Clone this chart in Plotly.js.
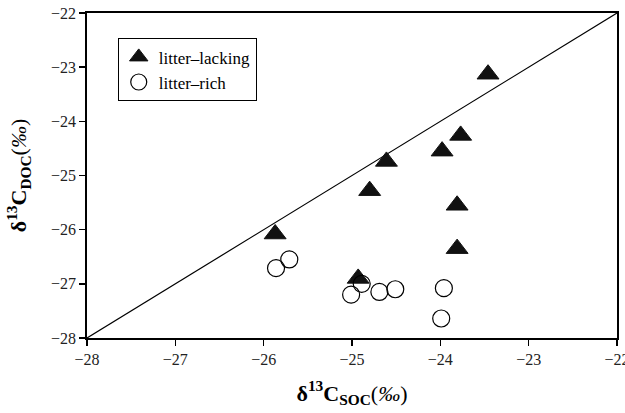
<!DOCTYPE html>
<html>
<head>
<meta charset="utf-8">
<script src="https://cdn.plot.ly/plotly-3.0.1.min.js"></script>
<style>html,body{margin:0;padding:0;background:#fff;}#chart{width:625px;height:413px;}</style>
</head>
<body>
<div id="chart"></div>
<script>
// litter-lacking sites (δ13C SOC, δ13C DOC)
const lackingSOC = [-23.46, -23.77, -23.98, -24.61, -24.80, -23.81, -23.81, -25.87, -24.93];
const lackingDOC = [-23.13, -24.26, -24.55, -24.74, -25.28, -25.55, -26.35, -26.08, -26.90];
// litter-rich sites
const richSOC = [-25.86, -25.71, -24.89, -25.01, -24.69, -24.51, -23.96, -23.99];
const richDOC = [-26.71, -26.55, -27.00, -27.20, -27.15, -27.10, -27.08, -27.64];
// 1:1 reference line
const lineX = [-28, -22];
const lineY = [-28, -22];
const tickVals = [-28, -27, -26, -25, -24, -23, -22];

const serif = "Liberation Serif, DejaVu Serif, serif";

const traces = [
  {x: lineX, y: lineY, mode: 'lines', line: {color: '#000', width: 1.2}, showlegend: false, hoverinfo: 'skip'},
  {x: lackingSOC, y: lackingDOC, mode: 'markers', name: 'litter–lacking',
   marker: {symbol: 'triangle-up', size: 19, color: '#111', line: {color: '#111', width: 1}}},
  {x: richSOC, y: richDOC, mode: 'markers', name: 'litter–rich',
   marker: {symbol: 'circle-open', size: 17, color: '#000', line: {color: '#000', width: 1.2}}}
];

const axisCommon = {
  range: [-28, -22], tickvals: tickVals, ticks: 'outside', ticklen: 6, tickwidth: 1.5, tickcolor: '#000',
  showline: true, linecolor: '#000', linewidth: 1.8, mirror: true, showgrid: false, zeroline: false,
  ticklabeloverflow: 'allow',
  tickfont: {family: serif, size: 16, color: '#222'}
};

const layout = {
  width: 625, height: 413,
  margin: {l: 87, r: 8, t: 13, b: 75},
  paper_bgcolor: '#fff', plot_bgcolor: '#fff',
  showlegend: true,
  legend: {x: 0.058, y: 0.922, xanchor: 'left', yanchor: 'top', bordercolor: '#000', borderwidth: 1,
           bgcolor: '#fff', font: {family: serif, size: 17, color: '#000'}, tracegroupgap: 0},
  xaxis: Object.assign({}, axisCommon, {
    automargin: false,
    title: {text: '<b>δ<sup>13</sup>C<sub>SOC</sub></b>(<i>‰</i>)', font: {family: serif, size: 22, color: '#000'}, standoff: 18}
  }),
  yaxis: Object.assign({}, axisCommon, {
    automargin: false,
    title: {text: '<b>δ<sup>13</sup>C<sub>DOC</sub></b>(<i>‰</i>)', font: {family: serif, size: 22, color: '#000'}, standoff: 18}
  })
};

Plotly.newPlot('chart', traces, layout, {displayModeBar: false, staticPlot: true});
</script>
</body>
</html>
